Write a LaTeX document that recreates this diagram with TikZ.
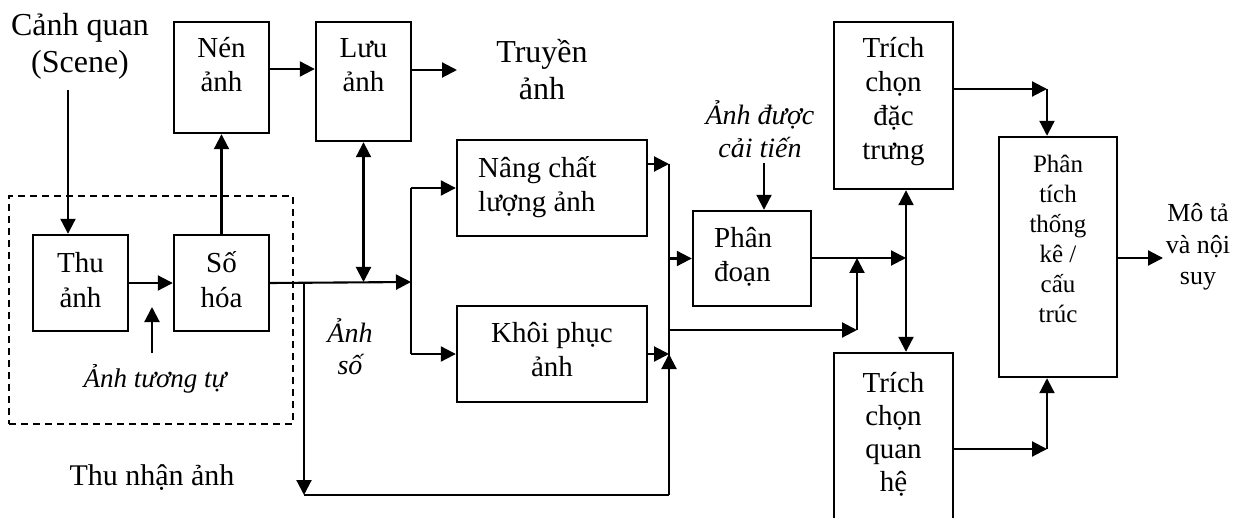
\documentclass[tikz,border=0pt]{standalone}
\usepackage{fontspec}
\setmainfont{Liberation Serif}
\usetikzlibrary{arrows.meta,calc}
\begin{document}
\begin{tikzpicture}[x=1pt,y=-1pt,
  box/.style={draw, line width=2.4pt, inner sep=0pt},
  dbox/.style={draw, line width=1.5pt, dash pattern=on 7pt off 5pt, inner sep=0pt},
  ln/.style={line width=2.1pt},
  arr/.style={ln, -{Triangle[length=15pt,width=15pt]}},
  darr/.style={ln, {Triangle[length=15pt,width=15pt]}-{Triangle[length=15pt,width=15pt]}},
  txt/.style={inner sep=0pt, align=center, anchor=base, font=\fontsize{29}{34}\selectfont},
  ltxt/.style={inner sep=0pt, align=left, anchor=base west, font=\fontsize{29}{34}\selectfont},
  big/.style={inner sep=0pt, align=center, anchor=base, font=\fontsize{32}{37}\selectfont},
  itx/.style={inner sep=0pt, align=center, anchor=base, font=\fontsize{28}{32.5}\selectfont\itshape},
]
\useasboundingbox (0,0) rectangle (1238,518);
% boxes
\node[dbox, minimum width=284pt, minimum height=228pt] (acq) at (151,310) {};
\node[box, minimum width=95pt, minimum height=96pt] (thu) at (80.5,283) {};
\node[box, minimum width=95pt, minimum height=96pt] (so) at (221.5,283) {};
\node[box, minimum width=95pt, minimum height=111pt] (nen) at (221.5,77.5) {};
\node[box, minimum width=95pt, minimum height=119pt] (luu) at (363.5,81.5) {};
\node[box, minimum width=190pt, minimum height=96pt] (nang) at (552,188) {};
\node[box, minimum width=190pt, minimum height=96pt] (khoi) at (552,354) {};
\node[box, minimum width=118pt, minimum height=95pt] (phan) at (752,258.5) {};
\node[box, minimum width=119pt, minimum height=167pt] (dac) at (893.5,105.5) {};
\node[box, minimum width=119pt, minimum height=192pt] (qh) at (893.5,449) {};
\node[box, minimum width=118pt, minimum height=240pt] (pt) at (1058,257) {};
% box texts (anchored at the baseline of their last line)
\node[txt] (thu-t) at (80.5,307) {Thu\\ảnh};
\node[txt] (so-t) at (221.5,307) {Số\\hóa};
\node[txt] (nen-t) at (221.5,92) {Nén\\ảnh};
\node[txt] (luu-t) at (363.5,92) {Lưu\\ảnh};
\node[ltxt] (nang-t) at (478,212) {Nâng chất\\lượng ảnh};
\node[txt] (khoi-t) at (552,376) {Khôi phục\\ảnh};
\node[ltxt] (phan-t) at (714,282) {Phân\\đoạn};
\node[txt] (dac-t) at (893.5,160) {Trích\\chọn\\đặc\\trưng};
\node[txt, font=\fontsize{29}{33}\selectfont] (qh-t) at (893.5,491) {Trích\\chọn\\quan\\hệ};
\node[txt, font=\fontsize{25}{30}\selectfont] (pt-t) at (1058,323) {Phân\\tích\\thống\\kê /\\cấu\\trúc};
% free labels
\node[big] (scene) at (80,73) {Cảnh quan\\(Scene)};
\node[big] (truyen) at (542,100) {Truyền\\ảnh};
\node[txt, font=\fontsize{30}{34}\selectfont] (thunhan) at (152,485) {Thu nhận ảnh};
\node[itx, font=\fontsize{27}{32}\selectfont\itshape] (tuongtu) at (155,387) {Ảnh tương tự};
\node[itx] (anhso) at (350,374.5) {Ảnh\\số};
\node[itx] (caitien) at (760,157.5) {Ảnh được\\cải tiến};
\node[txt, font=\fontsize{26}{31.5}\selectfont] (mota) at (1198,285) {Mô tả\\và nội\\suy};
% coordinates
\coordinate (s1) at (68,90);
\coordinate (a1) at (152,353);
\coordinate (tr) at (457,70);
\coordinate (j1) at (411,282);
\coordinate (fb) at (304,282);
\coordinate (fb2) at (304,495);
\coordinate (v1) at (669,164);
\coordinate (v2) at (669,495);
\coordinate (h1) at (669,330);
\coordinate (h2) at (857,330);
\coordinate (j2) at (906,258);
\coordinate (c1) at (764,163);
\coordinate (r1) at (1047,89);
\coordinate (r2) at (1047,449);
\coordinate (out) at (1163,258);
% connectors
\draw[arr] (s1) -- (s1 |- thu.north);
\draw[arr] (thu.east) -- (so.west);
\draw[arr] (a1) -- ++(0,-46);
\draw[arr] (so.north) -- (nen.south);
\draw[arr] (nen.east |- 0,69) -- (luu.west |- 0,69);
\draw[arr] (luu.east |- tr) -- (tr);
\draw[arr] (so.east) -- (j1);
\draw[darr] (luu.south) -- (luu.south |- j1);
\draw[ln] (j1 |- nang.west) -- (j1 |- khoi.west);
\draw[arr] (j1 |- nang.west) -- (nang.west);
\draw[arr] (j1 |- khoi.west) -- (khoi.west);
\draw[arr] (fb) -- (fb2);
\draw[ln] (fb2) -- (v2);
\draw[arr] (v2) -- (v2 |- khoi.east);
\draw[ln] (v1) -- (v2);
\draw[arr] (nang.east |- v1) -- (v1);
\draw[arr] (khoi.east) -- (v1 |- khoi.east);
\draw[arr] (v1 |- phan.west) -- (phan.west);
\draw[arr] (h1) -- (h2);
\draw[arr] (h2) -- (h2 |- j2);
\draw[arr] (c1) -- (c1 |- phan.north);
\draw[arr] (phan.east |- j2) -- (j2);
\draw[darr] (j2 |- dac.south) -- (j2 |- qh.north);
\draw[arr] (dac.east |- r1) -- (r1);
\draw[arr] (r1) -- (r1 |- pt.north);
\draw[arr] (qh.east |- r2) -- (r2);
\draw[arr] (r2) -- (r2 |- pt.south);
\draw[arr] (pt.east |- out) -- (out);
\end{tikzpicture}
\end{document}
